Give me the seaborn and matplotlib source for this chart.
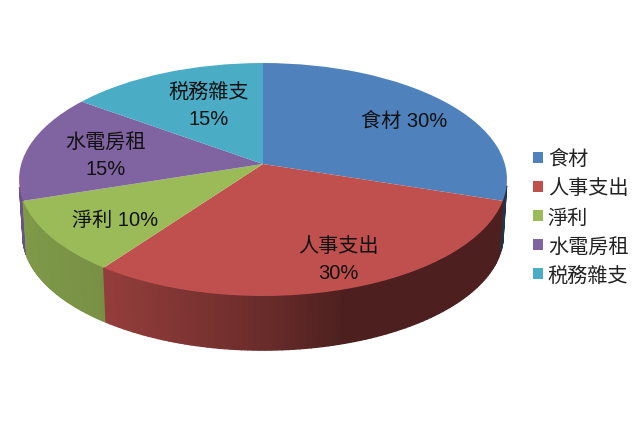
import numpy as np
import matplotlib
matplotlib.use('Agg')
import matplotlib.pyplot as plt
from matplotlib.transforms import Transform
import seaborn as sns

categories = ['食材', '人事支出', '淨利', '水電房租', '税務雜支']
shares = [30, 30, 10, 15, 15]
colors = ['#4F81BD', '#C0504D', '#9BBB59', '#8064A2', '#4BACC6']

# slice labels: text and where it sits, in pixels
label_text = ['食材 30%', '人事支出\n30%', '淨利 10%', '水電房租\n15%', '税務雜支\n15%']
label_xy = [(404, 121), (338, 260), (115, 220), (106, 156), (209, 106)]

# projection of the unit pie onto the picture
cx, cy = 263, 165
a, b, k = 241.8, 114.4, 0.133
depth = 55.5


def project(x, y, sx=1.0, sy=1.0, dy=0.0):
    d = 1 + k * y
    return cx + sx * a * x / d, cy + dy - sy * b * y / d


class Tilt(Transform):
    input_dims = 2
    output_dims = 2

    def transform_non_affine(self, values):
        values = np.asarray(values)
        px, py = project(values[:, 0], values[:, 1])
        return np.column_stack([px, py])


def side_shade(px):
    # the rim gets darker from left to right
    return np.interp(px - cx, [-245, -160, 0, 80, 250], [0.82, 0.77, 0.55, 0.40, 0.40])


sns.set_theme(style='white')
plt.rcParams['font.family'] = ['Liberation Sans', 'Noto Sans CJK TC']

fig = plt.figure(figsize=(6.4, 4.31), dpi=100)
ax = fig.add_axes([0, 0, 1, 1])

# rim first, back slices before the front one
edges = np.cumsum([0] + shares) / sum(shares) * 2 * np.pi
for i in [0, 3, 2, 1]:
    th = np.linspace(edges[i], edges[i + 1], 90)
    rgb = np.array(matplotlib.colors.to_rgb(colors[i]))
    for t0, t1 in zip(th[:-1], th[1:]):
        if np.cos(t0) > -0.2 and np.cos(t1) > -0.2:
            continue
        tt = np.array([t0, t1])
        xt, yt = project(np.sin(tt), np.cos(tt))
        xb, yb = project(np.sin(tt), np.cos(tt), 0.985, 0.99, depth)
        c = rgb * side_shade(xt.mean())
        ax.fill([xt[0], xt[1], xb[1], xb[0]], [yt[0], yt[1], yb[1], yb[0]],
                color=c, lw=1.0, zorder=1)

wedges, _ = ax.pie(shares, colors=colors, startangle=90, counterclock=False, radius=1,
                   wedgeprops={'linewidth': 0})
tilt = Tilt()
for w in wedges:
    w.set_transform(tilt + ax.transData)
    w.set_zorder(2)

ax.set_aspect('auto')
ax.set_xlim(0, 640)
ax.set_ylim(431, 0)
ax.axis('off')

for txt, (x, y) in zip(label_text, label_xy):
    ax.text(x, y, txt, ha='center', va='center', fontsize=14.5, color='#111111',
            linespacing=1.5, zorder=3)

ax.legend(wedges, categories, loc='center left', bbox_to_anchor=(0.805, 0.494),
          frameon=False, fontsize=14.5, labelspacing=0.5, handlelength=0.5,
          handleheight=0.5, handletextpad=0.22, labelcolor='#222222')

fig.savefig('out.png', dpi=100)
